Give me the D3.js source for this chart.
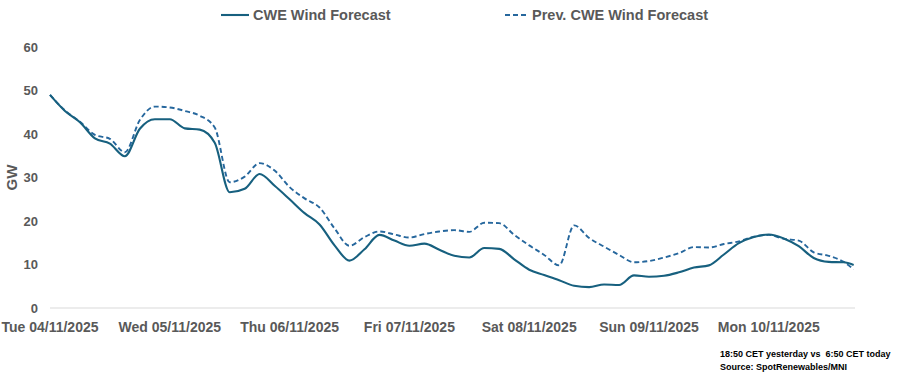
<!DOCTYPE html>
<html>
<head>
<meta charset="utf-8">
<script src="https://cdn.jsdelivr.net/npm/d3@7"></script>
<style>
  body { margin: 0; background: #fff; }
  text { font-family: "Liberation Sans Narrow", "Arial Narrow", "Liberation Sans", sans-serif; font-weight: bold; fill: #595959; }
</style>
</head>
<body>
<svg></svg>
<script>
// hours since Tue 04/11/2025 00:00
let hours = [0, 3, 6, 9, 12, 15, 18, 21, 24, 27, 30, 33, 36, 39, 42, 45, 48, 51, 54, 57,
             60, 63, 66, 69, 72, 75, 78, 81, 84, 87, 90, 93, 96, 99, 102, 105, 108, 111, 114, 117,
             120, 123, 126, 129, 132, 135, 138, 141, 144, 147, 150, 153, 156, 159, 161];

let current = [49.0, 45.3, 42.7, 39.0, 37.8, 34.9, 41.2, 43.4, 43.4, 41.3, 41.0, 38.0, 26.6, 27.4, 30.8, 28.1, 25.0, 21.8, 19.2, 14.4,
               10.9, 13.5, 16.8, 15.5, 14.3, 14.8, 13.4, 12.0, 11.6, 13.8, 13.6, 11.2, 8.8, 7.6, 6.4, 5.1, 4.8, 5.4, 5.3, 7.5,
               7.2, 7.4, 8.2, 9.3, 9.8, 12.3, 14.9, 16.3, 16.9, 16.0, 14.2, 11.5, 10.6, 10.5, 9.9];

let previous = [49.0, 45.4, 42.8, 39.8, 38.9, 35.8, 43.2, 46.3, 46.1, 45.3, 44.2, 41.5, 28.9, 30.2, 33.3, 31.6, 27.8, 25.2, 23.1, 18.3,
                14.3, 16.3, 17.6, 16.9, 16.2, 17.0, 17.6, 17.9, 17.5, 19.6, 19.5, 16.8, 14.4, 12.2, 9.8, 19.0, 16.1, 14.1, 12.2, 10.5,
                10.8, 11.6, 12.6, 14.0, 13.9, 14.7, 15.3, 16.4, 16.8, 15.9, 15.5, 12.8, 12.0, 10.6, 8.9];

let dayLabels = ['Tue 04/11/2025', 'Wed 05/11/2025', 'Thu 06/11/2025', 'Fri 07/11/2025',
                 'Sat 08/11/2025', 'Sun 09/11/2025', 'Mon 10/11/2025'];
let yTicks = [0, 10, 20, 30, 40, 50, 60];

let width = 908;
let height = 380;
let margin = {left: 50, top: 47, bottom: 72};

let svg = d3.select('svg')
    .attr('width', width)
    .attr('height', height);

let x = d3.scaleLinear()
    .domain([0, 161])
    .range([margin.left, margin.left + 161 * 119.8 / 24]);

let y = d3.scaleLinear()
    .domain([0, 60])
    .range([height - margin.bottom, margin.top]);

// axis baseline
svg.append('line')
    .attr('x1', margin.left)
    .attr('x2', 855)
    .attr('y1', y(0))
    .attr('y2', y(0))
    .attr('stroke', '#d9d9d9')
    .attr('stroke-width', 1);

svg.append('g')
    .selectAll('text')
    .data(yTicks)
    .enter()
    .append('text')
        .attr('x', 38)
        .attr('y', d => y(d))
        .attr('dy', '0.35em')
        .attr('text-anchor', 'end')
        .style('font-size', '13px')
        .text(d => d);

svg.append('text')
    .attr('transform', `translate(17 ${y(30)}) rotate(-90)`)
    .attr('text-anchor', 'middle')
    .style('font-size', '15px')
    .text('GW');

svg.append('g')
    .selectAll('text')
    .data(dayLabels)
    .enter()
    .append('text')
        .attr('x', (d, i) => x(i * 24))
        .attr('y', 332)
        .attr('text-anchor', 'middle')
        .style('font-size', '14px')
        .text(d => d);

let line = d3.line()
    .x((d, i) => x(hours[i]))
    .y(d => y(d))
    .curve(d3.curveMonotoneX);

svg.append('path')
    .datum(previous)
    .attr('fill', 'none')
    .attr('stroke', '#26679d')
    .attr('stroke-width', 1.9)
    .attr('stroke-dasharray', '5,3')
    .attr('d', line);

svg.append('path')
    .datum(current)
    .attr('fill', 'none')
    .attr('stroke', '#17607f')
    .attr('stroke-width', 2.1)
    .attr('stroke-linejoin', 'round')
    .attr('d', line);

// legend
let legend = [
    {name: 'CWE Wind Forecast', color: '#17607f', dash: null, x: 221, w: 28},
    {name: 'Prev. CWE Wind Forecast', color: '#26679d', dash: '5,3', x: 505, w: 23}
];

let items = svg.append('g')
    .selectAll('g')
    .data(legend)
    .enter()
    .append('g')
        .attr('transform', d => `translate(${d.x} 15)`);

items.append('line')
    .attr('x1', 0)
    .attr('x2', d => d.w)
    .attr('stroke', d => d.color)
    .attr('stroke-width', 2.1)
    .attr('stroke-dasharray', d => d.dash);

items.append('text')
    .attr('x', d => d.w + 4)
    .attr('dy', '0.35em')
    .style('font-size', '14.5px')
    .text(d => d.name);

svg.append('text')
    .attr('x', 720)
    .attr('y', 357)
    .style('font-size', '9px')
    .style('fill', '#000')
    .attr('xml:space', 'preserve')
    .text('18:50 CET yesterday vs  6:50 CET today');

svg.append('text')
    .attr('x', 720)
    .attr('y', 370)
    .style('font-size', '9px')
    .style('fill', '#000')
    .text('Source: SpotRenewables/MNI');
</script>
</body>
</html>
